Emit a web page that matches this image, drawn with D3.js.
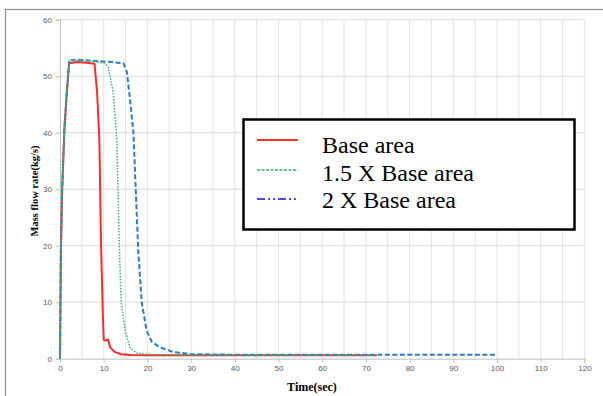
<!DOCTYPE html>
<html><head><meta charset="utf-8">
<script src="https://cdn.jsdelivr.net/npm/d3@7"></script>
<style>body{margin:0;background:#fff}svg{display:block}</style>
</head><body>
<script>
const seriesNames = ["Base area", "1.5 X Base area", "2 X Base area"];
const baseT = [0,0.2,0.5,1,1.5,2.1,4,6,7.9,8.5,9,9.4,9.8,10,10.5,11,11.5,12.5,14,16,20,30,40,50,60,72.5];
const baseV = [0,19,30,40.5,46.5,52.3,52.5,52.4,52.2,47,39,20,8,3.3,3.2,3.4,2,1.2,0.8,0.65,0.6,0.6,0.6,0.6,0.6,0.6];
const onehalfT = [0,0.2,0.5,1,1.5,2.1,4,8,10,11,12.2,13,13.6,14,14.9,16,17.5,20,25,30,40,50,60,72];
const onehalfV = [0,19,30,40.5,46.5,52.8,52.8,52.6,52.3,51.8,47,39,19.2,10,5,2,1,0.8,0.65,0.65,0.65,0.65,0.65,0.65];
const doubleT = [0,0.2,0.5,1,1.5,2.1,4,8,12,14.5,15.3,16,16.8,17.9,18.7,19.8,21,22.9,25.9,30,40,50,60,70,80,90,100];
const doubleV = [0,19,30,40.5,46.5,52.8,52.9,52.7,52.5,52.3,50.8,46,40,19.2,10,5,3,2,1.2,0.8,0.7,0.7,0.7,0.7,0.7,0.7,0.7];
const xTicks = [0,10,20,30,40,50,60,70,80,90,100,110,120];
const yTicks = [0,10,20,30,40,50,60];

const W = 603, H = 396;
const svg = d3.select("body").append("svg").attr("width", W).attr("height", H);

// outer frame
svg.append("rect").attr("x",5.5).attr("y",9.5).attr("width",W+10).attr("height",H+10)
  .attr("fill","none").attr("stroke","#8c8c8c").attr("stroke-width",1.2);

const x = d3.scaleLinear().domain([0,120]).range([60,584.4]);
const y = d3.scaleLinear().domain([0,60]).range([358.7,19.7]);

// grid
const g = svg.append("g");
g.selectAll("line.vg").data(d3.range(5,121,5)).enter().append("line")
  .attr("x1",d=>x(d)).attr("x2",d=>x(d)).attr("y1",y(0)).attr("y2",y(60))
  .attr("stroke","#e3e3e3").attr("stroke-width",1);
g.selectAll("line.hg").data(yTicks.slice(1)).enter().append("line")
  .attr("x1",x(0)).attr("x2",x(120)).attr("y1",d=>y(d)).attr("y2",d=>y(d))
  .attr("stroke","#d9d9d9").attr("stroke-width",1);

// axes
const xAxis = d3.axisBottom(x).tickValues(xTicks).tickSize(4).tickPadding(3);
const yAxis = d3.axisLeft(y).tickValues(yTicks).tickSize(4).tickPadding(4);
const gx = svg.append("g").attr("transform",`translate(0,${y(0)})`).call(xAxis);
const gy = svg.append("g").attr("transform",`translate(${x(0)},0)`).call(yAxis);
[gx,gy].forEach(a=>{
  a.select(".domain").attr("stroke","#bfbfbf");
  a.selectAll(".tick line").attr("stroke","#bfbfbf");
  a.selectAll(".tick text").attr("fill","#595959").attr("font-family","Liberation Sans, Arial, sans-serif").attr("font-size",8);
});

// series
const line = d3.line().x(d=>x(d[0])).y(d=>y(d[1]));
const series = [
  {t: baseT, v: baseV, color:"#ff2b2b", w:2, dash:null},
  {t: onehalfT, v: onehalfV, color:"#3cb56a", w:1.5, dash:"1.5,1.5"},
  {t: doubleT, v: doubleV, color:"#2a7cc7", w:2, dash:"5,2.5"}
];
[0,2,1].forEach(i=>{
  const s = series[i];
  svg.append("path").datum(d3.zip(s.t,s.v)).attr("d",line)
    .attr("fill","none").attr("stroke",s.color).attr("stroke-width",s.w)
    .attr("stroke-dasharray",s.dash).attr("stroke-linejoin","round");
});

// axis titles
svg.append("text").attr("x",312).attr("y",391).attr("text-anchor","middle")
  .attr("font-family","Liberation Serif, Times New Roman, serif").attr("font-weight","bold")
  .attr("font-size",12).text("Time(sec)");
svg.append("text").attr("transform","translate(38,191) rotate(-90)").attr("text-anchor","middle")
  .attr("font-family","Liberation Serif, Times New Roman, serif").attr("font-weight","bold")
  .attr("font-size",10.5).text("Mass flow rate(kg/s)");

// legend
const lg = svg.append("g");
lg.append("rect").attr("x",243.5).attr("y",119.5).attr("width",331).attr("height",110)
  .attr("fill","#fff").attr("stroke","#000").attr("stroke-width",2.5);
const legStyles = [
  {color:"#ff3030", dash:null, w:1.8},
  {color:"#2fb36a", dash:"3,1.5", w:1.5},
  {color:"#1010ee", dash:"8,3,2,3,2,3", w:1.5}
];
const lineY = [140,170,199];
const textY = [153,181,208];
seriesNames.forEach((n,i)=>{
  lg.append("line").attr("x1",257).attr("x2",298).attr("y1",lineY[i]).attr("y2",lineY[i])
    .attr("stroke",legStyles[i].color).attr("stroke-width",legStyles[i].w)
    .attr("stroke-dasharray",legStyles[i].dash);
  lg.append("text").attr("x",322).attr("y",textY[i]).attr("font-family","Liberation Serif, Times New Roman, serif")
    .attr("font-size",24).attr("fill","#000").text(n);
});
</script>
</body></html>
